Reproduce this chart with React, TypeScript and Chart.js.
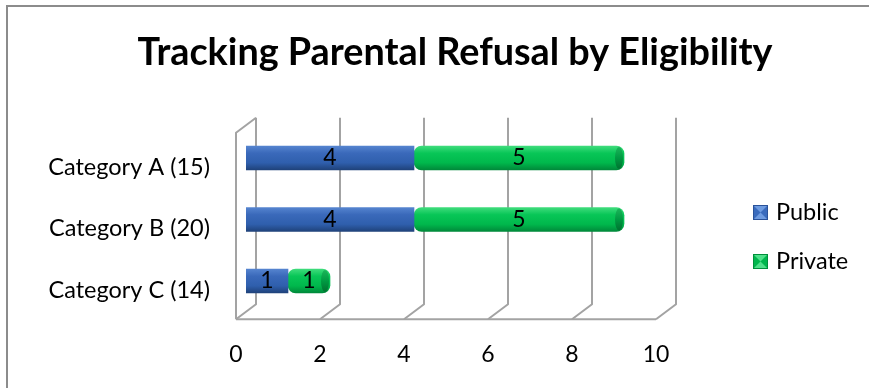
import { useEffect, useRef } from "react";
import { Chart, registerables } from "chart.js";

Chart.register(...registerables);

// ---- data ----
const chartTitle = "Tracking Parental Refusal by Eligibility";
const categories = ["Category A (15)", "Category B (20)", "Category C (14)"];
const seriesNames = ["Public", "Private"];
const publicCounts = [4, 4, 1];
const privateCounts = [5, 5, 1];
const axisMin = 0;
const axisMax = 10;
const axisStep = 2;

// ---- styling ----
const FONT = "Lato";
const DEPTH_X = 10; // half depth of the 3D floor, horizontal
const DEPTH_Y = 7.5; // half depth of the 3D floor, vertical
const BAR_HALF = 12;
const TITLE_WIDTH = 635;
const TITLE_CENTER_X = 455;
const TITLE_BASELINE = 65;

const blueStops = ["#5584cf", "#3a69ba", "#2f5fad", "#1f427a"];
const greenStops = ["#3fdc7c", "#08c657", "#00b84c", "#00893a"];
const swatchBase = ["#3a6bbd", "#00b64d"];
const swatchLight = ["#6e9be0", "#4fe08a"];
const swatchDark = ["#2a5299", "#008f3b"];

function cylinderFill(stops: string[]) {
  return (ctx: any) => {
    const chart = ctx.chart;
    const y = chart.scales?.y;
    if (!y || ctx.dataIndex === undefined) return stops[1];
    const yc = y.getPixelForValue(ctx.dataIndex);
    if (!Number.isFinite(yc)) return stops[1];
    const g = chart.ctx.createLinearGradient(0, yc - BAR_HALF, 0, yc + BAR_HALF);
    g.addColorStop(0, stops[0]);
    g.addColorStop(0.3, stops[1]);
    g.addColorStop(0.7, stops[2]);
    g.addColorStop(1, stops[3]);
    return g;
  };
}

// outer border, title, 3D walls, floor and back-wall grid
const framePlugin = {
  id: "frame3d",
  beforeDraw(chart: any) {
    const { ctx, width, height } = chart;
    ctx.save();
    ctx.fillStyle = "#ffffff";
    ctx.fillRect(0, 0, width, height);
    ctx.strokeStyle = "#8c8c8c";
    ctx.lineWidth = 2;
    ctx.beginPath();
    ctx.moveTo(7, height);
    ctx.lineTo(7, 6);
    ctx.lineTo(width, 6);
    ctx.stroke();

    // title, sized to its box width
    ctx.font = `bold 36px ${FONT}`;
    const w = ctx.measureText(chartTitle).width || TITLE_WIDTH;
    const size = Math.min(40, (36 * TITLE_WIDTH) / w);
    ctx.font = `bold ${size.toFixed(2)}px ${FONT}`;
    ctx.fillStyle = "#000000";
    ctx.textAlign = "center";
    ctx.textBaseline = "alphabetic";
    ctx.fillText(chartTitle, TITLE_CENTER_X, TITLE_BASELINE);
    ctx.restore();
  },
  beforeDatasetsDraw(chart: any) {
    const { ctx, chartArea } = chart;
    const x = chart.scales.x;
    const floor = chartArea.bottom;
    const top = chartArea.top - 2;
    ctx.save();
    ctx.strokeStyle = "#a3a3a3";
    ctx.lineWidth = 2;
    ctx.lineJoin = "round";
    x.ticks.forEach((t: any) => {
      const px = x.getPixelForValue(t.value);
      ctx.beginPath();
      ctx.moveTo(px + DEPTH_X, top - DEPTH_Y);
      ctx.lineTo(px + DEPTH_X, floor - DEPTH_Y);
      ctx.lineTo(px - DEPTH_X, floor + DEPTH_Y);
      ctx.stroke();
    });
    const x0 = x.getPixelForValue(axisMin);
    const x1 = x.getPixelForValue(axisMax);
    ctx.beginPath();
    ctx.moveTo(x0 - DEPTH_X, floor + DEPTH_Y);
    ctx.lineTo(x1 - DEPTH_X, floor + DEPTH_Y);
    ctx.stroke();
    ctx.beginPath();
    ctx.moveTo(x0 - DEPTH_X, floor + DEPTH_Y);
    ctx.lineTo(x0 - DEPTH_X, top + DEPTH_Y);
    ctx.lineTo(x0 + DEPTH_X, top - DEPTH_Y);
    ctx.stroke();
    ctx.restore();
  },
};

// cylinder end caps and value labels
const barDecorPlugin = {
  id: "barDecor",
  afterDatasetsDraw(chart: any) {
    const { ctx } = chart;
    ctx.save();
    const last = chart.getDatasetMeta(chart.data.datasets.length - 1);
    last.data.forEach((el: any) => {
      const { x, y } = el.getProps(["x", "y"], true);
      const g = ctx.createLinearGradient(0, y - BAR_HALF, 0, y + BAR_HALF);
      g.addColorStop(0, "#1fb85c");
      g.addColorStop(0.5, "#009a42");
      g.addColorStop(1, "#006e2e");
      ctx.fillStyle = g;
      ctx.beginPath();
      ctx.ellipse(x - 5, y, 4, BAR_HALF - 1, 0, 0, Math.PI * 2);
      ctx.fill();
    });
    ctx.fillStyle = "#000000";
    ctx.font = `23px ${FONT}`;
    ctx.textAlign = "center";
    ctx.textBaseline = "middle";
    chart.data.datasets.forEach((ds: any, i: number) => {
      const meta = chart.getDatasetMeta(i);
      meta.data.forEach((el: any, j: number) => {
        const { x, y, base } = el.getProps(["x", "y", "base"], true);
        ctx.fillText(String(ds.data[j]), (x + base) / 2, y);
      });
    });
    ctx.restore();
  },
};

// legend with bevelled swatches
const legendPlugin = {
  id: "bevelLegend",
  afterDraw(chart: any) {
    const { ctx } = chart;
    const size = 15;
    const left = 753;
    const rows = [212.5, 261.5];
    ctx.save();
    ctx.font = `23.5px ${FONT}`;
    ctx.textBaseline = "middle";
    ctx.textAlign = "left";
    seriesNames.forEach((name, i) => {
      const cy = rows[i];
      const t = cy - size / 2;
      const b = cy + size / 2;
      const r = left + size;
      const cx = left + size / 2;
      ctx.fillStyle = swatchBase[i];
      ctx.fillRect(left, t, size, size);
      ctx.fillStyle = swatchLight[i];
      ctx.beginPath();
      ctx.moveTo(left, t);
      ctx.lineTo(r, t);
      ctx.lineTo(cx, cy);
      ctx.closePath();
      ctx.fill();
      ctx.beginPath();
      ctx.moveTo(left, b);
      ctx.lineTo(r, b);
      ctx.lineTo(cx, cy);
      ctx.closePath();
      ctx.fill();
      ctx.strokeStyle = swatchDark[i];
      ctx.lineWidth = 1;
      ctx.strokeRect(left + 0.5, t + 0.5, size - 1, size - 1);
      ctx.fillStyle = "#000000";
      ctx.fillText(name, r + 8, cy);
    });
    ctx.restore();
  },
};

export default function App() {
  const canvasRef = useRef<HTMLCanvasElement | null>(null);

  useEffect(() => {
    if (!canvasRef.current) return;
    const chart = new Chart(canvasRef.current, {
      type: "bar",
      data: {
        labels: categories,
        datasets: [
          {
            label: seriesNames[0],
            data: publicCounts,
            backgroundColor: cylinderFill(blueStops),
            borderRadius: 8,
            borderSkipped: false,
            barThickness: BAR_HALF * 2,
          },
          {
            label: seriesNames[1],
            data: privateCounts,
            backgroundColor: cylinderFill(greenStops),
            borderRadius: 8,
            borderSkipped: false,
            barThickness: BAR_HALF * 2,
          },
        ],
      },
      options: {
        indexAxis: "y",
        animation: false,
        responsive: true,
        maintainAspectRatio: false,
        layout: { padding: { left: 0, right: 203, top: 127.25, bottom: 0 } },
        plugins: {
          legend: { display: false },
          tooltip: { enabled: false },
          title: { display: false },
        },
        scales: {
          x: {
            stacked: true,
            min: axisMin,
            max: axisMax,
            grid: { display: false, drawTicks: false },
            border: { display: false },
            ticks: {
              stepSize: axisStep,
              color: "#000000",
              font: { family: FONT, size: 23 },
              padding: 29,
              labelOffset: -DEPTH_X,
            },
            afterFit(scale: any) {
              scale.height = 76.25;
            },
          },
          y: {
            stacked: true,
            grid: { display: false, drawTicks: false },
            border: { display: false },
            ticks: {
              color: "#000000",
              font: { family: FONT, size: 23.5 },
              padding: 36,
              labelOffset: 9,
            },
            afterFit(scale: any) {
              scale.width = 246;
            },
          },
        },
      },
      plugins: [framePlugin, barDecorPlugin, legendPlugin],
    });
    return () => chart.destroy();
  }, []);

  return (
    <div
      style={{
        position: "fixed",
        left: 0,
        top: 0,
        width: 869,
        height: 388,
        background: "#ffffff",
      }}
    >
      <canvas ref={canvasRef} />
    </div>
  );
}
